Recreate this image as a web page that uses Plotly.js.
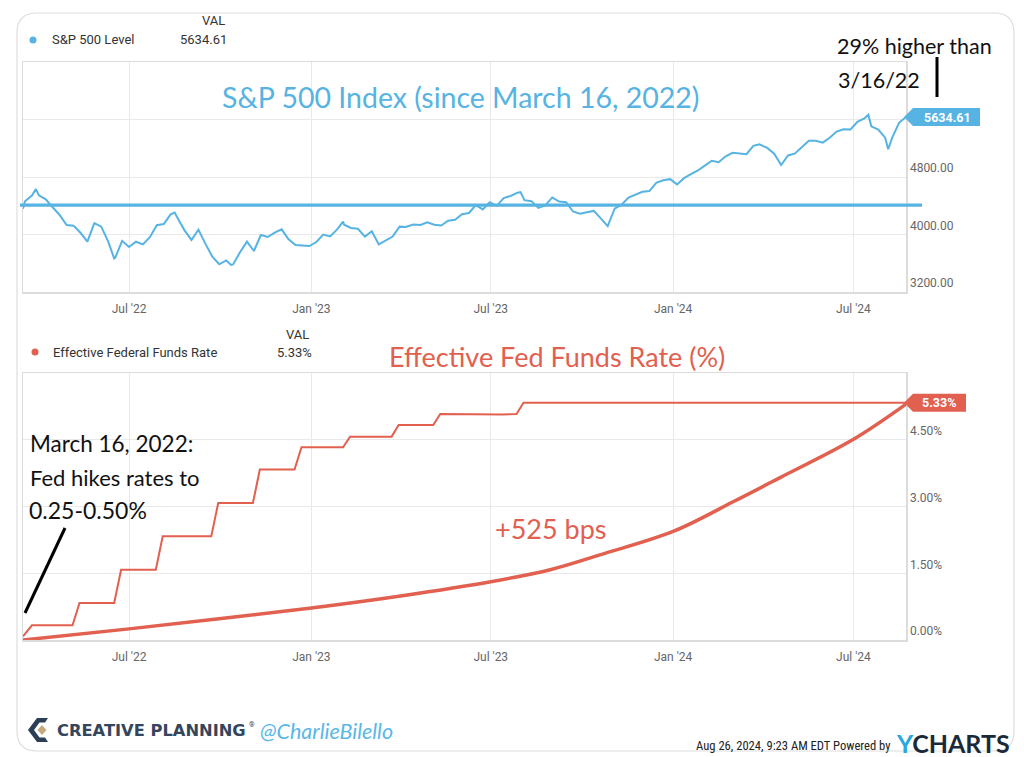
<!DOCTYPE html>
<html>
<head>
<meta charset="utf-8">
<script src="https://cdn.plot.ly/plotly-3.0.1.min.js"></script>
<style>html,body{margin:0;padding:0;background:#fff;}#chart{width:1024px;height:757px;}</style>
</head>
<body>
<div id="chart"></div>
<script>
// ---------------- DATA ----------------
const spDates = ['2022-03-16','2022-03-18','2022-03-25','2022-03-29','2022-04-01','2022-04-08','2022-04-14','2022-04-22','2022-04-29','2022-05-06','2022-05-13','2022-05-20','2022-05-27','2022-06-03','2022-06-10','2022-06-16','2022-06-17','2022-06-24','2022-07-01','2022-07-08','2022-07-15','2022-07-22','2022-07-29','2022-08-05','2022-08-12','2022-08-16','2022-08-19','2022-08-26','2022-09-02','2022-09-09','2022-09-16','2022-09-23','2022-09-30','2022-10-07','2022-10-12','2022-10-14','2022-10-21','2022-10-28','2022-11-04','2022-11-11','2022-11-18','2022-11-25','2022-12-02','2022-12-09','2022-12-16','2022-12-23','2022-12-30',
'2023-01-06','2023-01-13','2023-01-20','2023-01-27','2023-02-02','2023-02-03','2023-02-10','2023-02-17','2023-02-24','2023-03-03','2023-03-10','2023-03-17','2023-03-24','2023-03-31','2023-04-06','2023-04-14','2023-04-21','2023-04-28','2023-05-05','2023-05-12','2023-05-19','2023-05-26','2023-06-02','2023-06-09','2023-06-16','2023-06-23','2023-06-30','2023-07-07','2023-07-14','2023-07-21','2023-07-28','2023-07-31','2023-08-04','2023-08-11','2023-08-18','2023-08-25','2023-09-01','2023-09-08','2023-09-15','2023-09-22','2023-09-29','2023-10-06','2023-10-13','2023-10-20','2023-10-27','2023-11-03','2023-11-10','2023-11-17','2023-11-24','2023-12-01','2023-12-08','2023-12-15','2023-12-22','2023-12-29',
'2024-01-05','2024-01-12','2024-01-19','2024-01-26','2024-02-02','2024-02-09','2024-02-16','2024-02-23','2024-03-01','2024-03-08','2024-03-15','2024-03-22','2024-03-28','2024-04-05','2024-04-12','2024-04-19','2024-04-26','2024-05-03','2024-05-10','2024-05-17','2024-05-24','2024-05-31','2024-06-07','2024-06-14','2024-06-21','2024-06-28','2024-07-05','2024-07-12','2024-07-16','2024-07-19','2024-07-26','2024-08-02','2024-08-05','2024-08-09','2024-08-16','2024-08-23'];
const spValues = [4357.86,4463.12,4543.06,4631.60,4545.86,4488.28,4392.59,4271.78,4131.93,4123.34,4023.89,3901.36,4158.24,4108.54,3900.86,3666.77,3674.84,3911.74,3825.33,3899.38,3863.16,3961.63,4130.29,4145.19,4280.15,4305.20,4228.48,4057.66,3924.26,4067.36,3873.33,3693.23,3585.62,3639.66,3577.03,3583.07,3752.75,3901.06,3770.55,3992.93,3965.34,4026.12,4071.70,3934.38,3852.36,3844.82,3839.50,
3895.08,3999.09,3972.61,4070.56,4179.76,4136.48,4090.46,4079.09,3970.04,4045.64,3861.59,3916.64,3970.99,4109.31,4105.02,4137.64,4133.52,4169.48,4136.25,4124.08,4191.98,4205.45,4282.37,4298.86,4409.59,4348.33,4450.38,4398.95,4505.42,4536.34,4582.23,4588.96,4478.03,4464.05,4369.71,4405.71,4515.77,4457.49,4450.32,4320.06,4288.05,4308.50,4327.78,4224.16,4117.37,4358.34,4415.24,4514.02,4559.34,4594.63,4604.37,4719.19,4754.63,4769.83,
4697.24,4783.83,4839.81,4890.97,4958.61,5026.61,5005.57,5088.80,5137.08,5123.69,5117.09,5234.18,5254.35,5204.34,5123.41,4967.23,5099.96,5127.79,5222.68,5303.27,5304.72,5277.51,5346.99,5431.60,5464.62,5460.48,5567.19,5615.35,5667.20,5505.00,5459.10,5346.56,5186.33,5344.16,5554.25,5634.61];
const spBaseline = 4410; // hand-drawn reference line

const ffDates = ['2022-03-16','2022-03-25','2022-05-05','2022-05-12','2022-06-16','2022-06-23','2022-07-28','2022-08-04','2022-09-22','2022-09-29','2022-11-03','2022-11-10','2022-12-15','2022-12-22','2023-02-02','2023-02-09','2023-03-23','2023-03-30','2023-05-04','2023-05-11','2023-07-13','2023-07-27','2023-08-03','2024-08-23'];
const ffValues = [0.08,0.33,0.33,0.83,0.83,1.58,1.58,2.33,2.33,3.08,3.08,3.83,3.83,4.33,4.33,4.57,4.57,4.83,4.83,5.08,5.07,5.08,5.33,5.33];

const trendDates = ['2022-03-16','2022-07-01','2023-01-01','2023-04-01','2023-07-01','2023-08-30','2023-10-20','2024-01-01','2024-03-01','2024-04-18','2024-07-01','2024-08-23'];
const trendValues = [0.0,0.25,0.72,0.99,1.31,1.58,1.92,2.44,3.10,3.65,4.51,5.30];

const xStart = '2022-03-16', xEnd = '2024-08-23';
const spTicks = [3200,4000,4800,5600];
const spTickText = ['3200.00','4000.00','4800.00',''];
const ffTicks = [0,1.5,3,4.5,6];
const ffTickText = ['0.00%','1.50%','3.00%','4.50%',''];

// --------------- STYLE ----------------
const W = 1024, H = 757;
const px = x => x / W, py = y => 1 - y / H;
const PLOT_R = 906;
const BLUE = '#56b3e2', RED = '#e1604f', GRID = '#e9e9e9', FRAME = '#dcdcdc', TICK = '#666';
const HAND = 'Lato, "Noto Sans", sans-serif';
const UI = 'Roboto, "Noto Sans", sans-serif';

const spLast = spValues[spValues.length - 1];
const ffLast = ffValues[ffValues.length - 1];

const traces = [
  {x: spDates, y: spValues, type: 'scatter', mode: 'lines', line: {color: BLUE, width: 2}, xaxis: 'x', yaxis: 'y', hoverinfo: 'skip'},
  {x: ffDates, y: ffValues, type: 'scatter', mode: 'lines', line: {color: RED, width: 2}, xaxis: 'x2', yaxis: 'y2', hoverinfo: 'skip'},
  {x: trendDates, y: trendValues, type: 'scatter', mode: 'lines', line: {color: RED, width: 3.5, shape: 'spline', smoothing: 1}, xaxis: 'x2', yaxis: 'y2', hoverinfo: 'skip'}
];

function xAxis(anchor) {
  return {domain: [px(23), px(PLOT_R)], range: [xStart, xEnd], type: 'date', anchor: anchor,
    tickformat: "%b '%y", dtick: 'M6', tick0: '2022-01-01',
    showgrid: true, gridcolor: GRID, gridwidth: 1,
    showline: true, linecolor: FRAME, linewidth: 1.5, mirror: true,
    ticks: 'outside', ticklen: 5, tickcolor: 'rgba(0,0,0,0)',
    tickfont: {family: UI, size: 12, color: TICK}, fixedrange: true, zeroline: false};
}
function yAxis(domain, range, tv, tt, anchor) {
  return {domain: domain, range: range, side: 'right', anchor: anchor,
    tickvals: tv, ticktext: tt, ticklabelposition: 'outside top',
    showgrid: true, gridcolor: GRID, gridwidth: 1,
    showline: true, linecolor: FRAME, linewidth: 1.5, mirror: true,
    ticks: 'outside', ticklen: 9, tickcolor: 'rgba(0,0,0,0)',
    tickfont: {family: UI, size: 12, color: TICK}, fixedrange: true, zeroline: false};
}

function rrect(x0, y0, x1, y1, r) {
  const X = v => px(v).toFixed(5), Y = v => py(v).toFixed(5);
  return `M${X(x0+r)},${Y(y0)} L${X(x1-r)},${Y(y0)} Q${X(x1)},${Y(y0)} ${X(x1)},${Y(y0+r)} L${X(x1)},${Y(y1-r)} Q${X(x1)},${Y(y1)} ${X(x1-r)},${Y(y1)} L${X(x0+r)},${Y(y1)} Q${X(x0)},${Y(y1)} ${X(x0)},${Y(y1-r)} L${X(x0)},${Y(y0+r)} Q${X(x0)},${Y(y0)} ${X(x0+r)},${Y(y0)} Z`;
}
function poly(pts) {
  return 'M' + pts.map(p => px(p[0]).toFixed(5) + ',' + py(p[1]).toFixed(5)).join(' L') + ' Z';
}

const shapes = [
  // card
  {type: 'path', xref: 'paper', yref: 'paper', path: rrect(17, 13, 1014, 751, 20), line: {color: '#dedede', width: 1.2}, fillcolor: 'rgba(0,0,0,0)', layer: 'below'},
  // baseline of S&P
  {type: 'line', xref: 'paper', yref: 'y', x0: px(20), x1: px(922), y0: spBaseline, y1: spBaseline, line: {color: BLUE, width: 3.2}},
  // value tags
  {type: 'path', xref: 'paper', yref: 'y', xsizemode: 'pixel', ysizemode: 'pixel', xanchor: px(PLOT_R), yanchor: spLast,
   path: 'M-2,0 L7,9 L74,9 L74,-9 L7,-9 Z', fillcolor: BLUE, line: {width: 0}},
  {type: 'path', xref: 'paper', yref: 'y2', xsizemode: 'pixel', ysizemode: 'pixel', xanchor: px(PLOT_R), yanchor: ffLast,
   path: 'M-2,0 L7,9 L60,9 L60,-9 L7,-9 Z', fillcolor: RED, line: {width: 0}},
  // legend dots
  {type: 'circle', xref: 'paper', yref: 'paper', x0: px(29.5), x1: px(36.5), y0: py(36.5), y1: py(43.5), fillcolor: BLUE, line: {width: 0}},
  {type: 'circle', xref: 'paper', yref: 'paper', x0: px(31.5), x1: px(38.5), y0: py(348.5), y1: py(355.5), fillcolor: RED, line: {width: 0}},
  // hand-drawn pointers
  {type: 'line', xref: 'paper', yref: 'paper', x0: px(65), y0: py(528), x1: px(25), y1: py(613), line: {color: '#000', width: 3}},
  {type: 'line', xref: 'paper', yref: 'paper', x0: px(937), y0: py(57), x1: px(937), y1: py(97), line: {color: '#000', width: 3}},
  // Creative Planning logo
  {type: 'path', xref: 'paper', yref: 'paper', path: poly([[48,718],[37,718],[28,730],[37,742],[48,742],[45,737.5],[39.5,737.5],[34,730],[39.5,722.5],[45,722.5]]), fillcolor: '#2d3f57', line: {width: 0}},
  {type: 'path', xref: 'paper', yref: 'paper', path: poly([[42,725],[46.5,730],[42,735],[37.5,730]]), fillcolor: '#c6a97c', line: {width: 0}}
];

const hand = (size, color) => ({family: HAND, size: size, color: color});
const ui = (size, color) => ({family: UI, size: size, color: color});
function ann(x, y, text, font, xanchor, extra) {
  return Object.assign({xref: 'paper', yref: 'paper', x: px(x), y: py(y), text: text, font: font, showarrow: false, xanchor: xanchor || 'center', yanchor: 'middle'}, extra || {});
}

const annotations = [
  // legends
  ann(50, 40, 'S&P 500 Level', ui(13, '#333'), 'left'),
  ann(213, 21, 'VAL', ui(13, '#333')),
  ann(203, 40, spLast.toFixed(2), ui(13, '#333')),
  ann(51, 352, 'Effective Federal Funds Rate', ui(13, '#333'), 'left'),
  ann(297, 334, 'VAL', ui(13, '#333')),
  ann(294, 352, ffLast.toFixed(2) + '%', ui(13, '#333')),
  // tags
  {xref: 'paper', yref: 'y', x: px(PLOT_R), xshift: 41, y: spLast, text: '<b>' + spLast.toFixed(2) + '</b>', font: ui(12.5, '#fff'), showarrow: false, xanchor: 'center', yanchor: 'middle'},
  {xref: 'paper', yref: 'y2', x: px(PLOT_R), xshift: 33, y: ffLast, text: '<b>' + ffLast.toFixed(2) + '%</b>', font: ui(12.5, '#fff'), showarrow: false, xanchor: 'center', yanchor: 'middle'},
  // titles / hand notes
  ann(460, 97, 'S&P 500 Index (since March 16, 2022)', hand(28.5, BLUE)),
  ann(557, 357, 'Effective Fed Funds Rate (%)', hand(27, RED)),
  ann(551, 528, '+525 bps', hand(27, RED)),
  ann(835, 46, '29% higher than', hand(21.5, '#111'), 'left'),
  ann(836, 80, '3/16/22', hand(21.5, '#111'), 'left'),
  ann(28, 443, 'March 16, 2022:', hand(22.5, '#111'), 'left'),
  ann(28, 477, 'Fed hikes rates to', hand(22, '#111'), 'left'),
  ann(27, 510, '0.25-0.50%', hand(23, '#111'), 'left'),
  // footer
  ann(55, 730, '<b>CREATIVE PLANNING</b>', {family: '"DejaVu Sans", sans-serif', size: 16.3, color: '#34465d'}, 'left'),
  ann(247, 725, '®', ui(7, '#34465d'), 'left'),
  ann(258, 731, '<i>@CharlieBilello</i>', hand(21.5, '#5ab7e6'), 'left'),
  ann(694, 745, 'Aug 26, 2024, 9:23 AM EDT Powered by', {family: '"Liberation Sans Narrow", "Roboto Condensed", "Roboto", sans-serif', size: 12.6, color: '#222'}, 'left'),
  ann(894, 743, '<b><span style="color:#2aa6e0">Y</span>CHARTS</b>', {family: 'Lato, "Open Sans", sans-serif', size: 25, color: '#1b2a3b'}, 'left')
];

const layout = {
  width: W, height: H, margin: {l: 0, r: 0, t: 0, b: 0},
  paper_bgcolor: '#fff', plot_bgcolor: '#fff', showlegend: false,
  xaxis: xAxis('y'), yaxis: yAxis([py(292), py(62)], [3200, 6400], spTicks, spTickText, 'x'),
  xaxis2: xAxis('y2'), yaxis2: yAxis([py(640), py(373)], [0, 6], ffTicks, ffTickText, 'x2'),
  shapes: shapes, annotations: annotations
};

Plotly.newPlot('chart', traces, layout, {displayModeBar: false, staticPlot: true});
</script>
</body>
</html>
